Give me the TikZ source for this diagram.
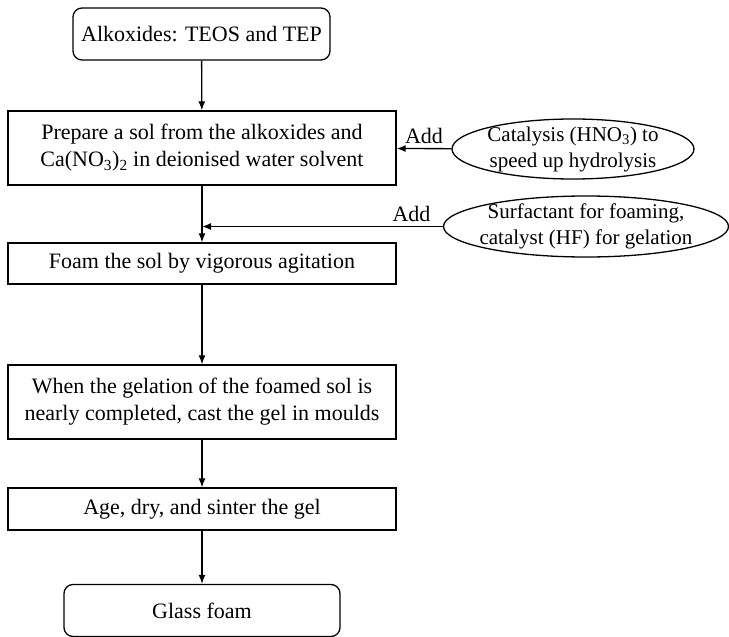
\documentclass[tikz,border=0pt]{standalone}
\usepackage{fontspec}
\setmainfont{Liberation Serif}
\usetikzlibrary{shapes.geometric,arrows.meta}

\begin{document}
\begin{tikzpicture}[x=1pt, y=-1pt, line width=1.3pt,
        every node/.style={font=\fontsize{22}{27}\selectfont},
        >={Latex[length=9pt,width=7pt]},
        stepbox/.style={draw, rectangle, align=center, inner sep=0pt, minimum width=388pt},
        endbox/.style={draw, rectangle, rounded corners=9pt, align=center, inner sep=0pt, minimum height=52pt},
        addin/.style={draw, ellipse, align=center, inner xsep=-40pt, inner ysep=-10pt, font=\fontsize{21}{26}\selectfont}]
        \useasboundingbox (0,0) rectangle (729,637);
        \node[endbox, minimum width=257pt] (alk) at (201.5, 34) {Alkoxides: TEOS and TEP};
        \node[stepbox, minimum height=74pt] (sol) at (202, 148) {Prepare a sol from the alkoxides and\\Ca(NO\textsubscript{3})\textsubscript{2} in deionised water solvent};
        \node[addin, minimum width=242pt, minimum height=60pt] (cat) at (573, 149) {Catalysis (HNO\textsubscript{3}) to\\speed up hydrolysis};
        \node[addin, minimum width=285pt, minimum height=61pt] (surf) at (586, 226.5) {Surfactant for foaming,\\catalyst (HF) for gelation};
        \node[stepbox, minimum height=41pt] (foam) at (202, 263.5) {Foam the sol by vigorous agitation};
        \node[stepbox, minimum height=74pt] (cast) at (202, 402) {When the gelation of the foamed sol is\\nearly completed, cast the gel in moulds};
        \node[stepbox, minimum height=42pt] (age) at (202, 509) {Age, dry, and sinter the gel};
        \node[endbox, minimum width=276pt] (glass) at (202, 610.5) {Glass foam};
        \coordinate (join) at (202, 226.5);
        \draw[->] (alk) -- (sol);
        \draw[->] (cat) -- node[above=1pt] {Add} (sol);
        \draw[->] (sol) -- (foam);
        \draw[->] (surf) -- node[above=1pt, pos=0.13] {Add} (join);
        \draw[->] (foam) -- (cast);
        \draw[->] (cast) -- (age);
        \draw[->] (age) -- (glass);
    \end{tikzpicture}
\end{document}
